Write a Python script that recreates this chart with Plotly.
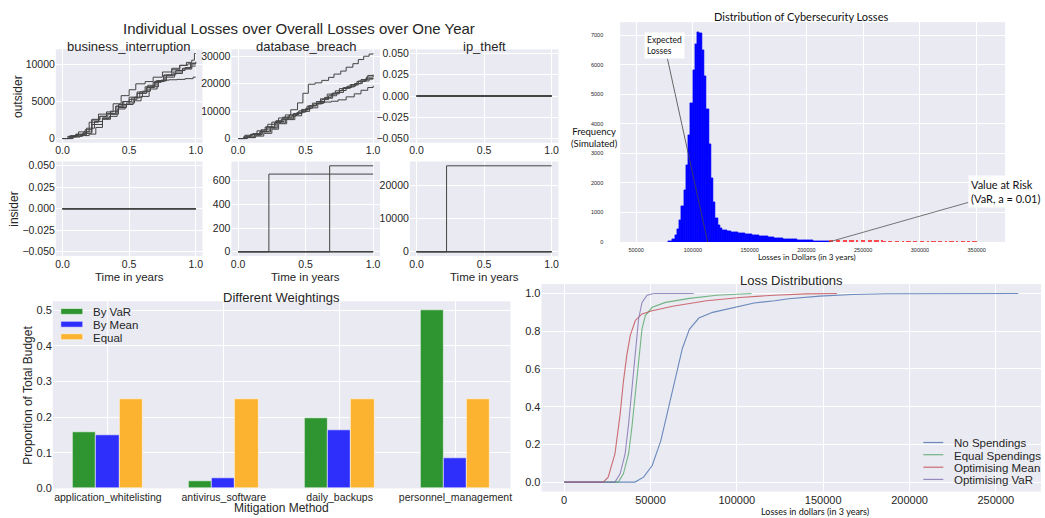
import numpy as np
import plotly.graph_objects as go

W, H = 1045, 518

# ---------------- cumulative loss paths (time in years, cumulative loss) ----------------
bi_times = [
    [0, 0.05, 0.1, 0.17, 0.22, 0.28, 0.33, 0.4, 0.46, 0.52, 0.58, 0.64, 0.7, 0.76, 0.82, 0.88, 0.93, 0.97, 0.99, 1.0],
    [0, 0.06, 0.12, 0.2, 0.27, 0.33, 0.38, 0.44, 0.5, 0.55, 0.62, 0.68, 0.75, 0.82, 0.88, 0.94, 1.0],
    [0, 0.08, 0.15, 0.22, 0.3, 0.36, 0.42, 0.5, 0.56, 0.62, 0.68, 0.74, 0.8, 0.86, 0.92, 0.98, 1.0],
    [0, 0.07, 0.13, 0.2, 0.25, 0.3, 0.36, 0.42, 0.48, 0.54, 0.6, 0.66, 0.72, 0.78, 0.85, 0.92, 0.97, 1.0],
    [0, 0.05, 0.1, 0.16, 0.22, 0.28, 0.34, 0.4, 0.45, 0.5, 0.56, 0.63, 0.69, 0.76, 0.83, 0.9, 0.96, 1.0],
    [0, 0.04, 0.1, 0.18, 0.24, 0.3, 0.35, 0.41, 0.47, 0.53, 0.59, 0.65, 0.71, 0.77, 0.84, 0.9, 0.97, 1.0],
]
bi_values = [
    [0, 300, 500, 1200, 2500, 3000, 3400, 4300, 5000, 5500, 6300, 7200, 7800, 8600, 9300, 9900, 10300, 10600, 11500, 11500],
    [0, 400, 900, 2200, 3300, 3600, 4700, 5800, 6600, 7400, 7700, 8300, 9000, 9500, 9900, 10100, 10400],
    [0, 300, 700, 1900, 2800, 3700, 4600, 5600, 6300, 7000, 7600, 7900, 7950, 8000, 8100, 8300, 8300],
    [0, 200, 400, 600, 1500, 2600, 3300, 4200, 4800, 5600, 6400, 7000, 7800, 8600, 9200, 9600, 10100, 10100],
    [0, 200, 600, 900, 2600, 3000, 3300, 4400, 5000, 5300, 6100, 6900, 7700, 8500, 9000, 9500, 10200, 10200],
    [0, 300, 500, 1400, 2300, 2700, 3000, 4000, 4600, 5100, 5700, 6700, 7800, 8300, 8800, 9400, 9800, 9800],
]
db_times = [
    [0, 0.04, 0.09, 0.14, 0.2, 0.25, 0.3, 0.35, 0.39, 0.44, 0.48, 0.52, 0.57, 0.62, 0.67, 0.71, 0.76, 0.8, 0.85, 0.89, 0.93, 0.97, 1.0],
    [0, 0.05, 0.1, 0.16, 0.21, 0.27, 0.32, 0.37, 0.43, 0.48, 0.53, 0.58, 0.64, 0.69, 0.75, 0.8, 0.86, 0.91, 0.96, 1.0],
    [0, 0.06, 0.12, 0.17, 0.23, 0.28, 0.34, 0.4, 0.45, 0.51, 0.56, 0.62, 0.67, 0.73, 0.78, 0.84, 0.89, 0.95, 1.0],
    [0, 0.05, 0.11, 0.17, 0.22, 0.28, 0.33, 0.38, 0.44, 0.5, 0.55, 0.61, 0.66, 0.72, 0.77, 0.83, 0.88, 0.94, 1.0],
    [0, 0.07, 0.13, 0.19, 0.25, 0.3, 0.36, 0.42, 0.47, 0.53, 0.59, 0.64, 0.7, 0.75, 0.81, 0.87, 0.92, 0.97, 1.0],
    [0, 0.06, 0.12, 0.18, 0.24, 0.29, 0.35, 0.41, 0.47, 0.52, 0.58, 0.63, 0.69, 0.74, 0.8, 0.86, 0.91, 0.96, 1.0],
]
db_values = [
    [0, 600, 1500, 2800, 4200, 6000, 7500, 8600, 10500, 13000, 16500, 19800, 20300, 21200, 22300, 23500, 24600, 26000, 27300, 28800, 30000, 30800, 31000],
    [0, 900, 1600, 2500, 4300, 5800, 7000, 8200, 9300, 10500, 12000, 13500, 15000, 16300, 17500, 18800, 20000, 21500, 23000, 23300],
    [0, 400, 1200, 2600, 4000, 6200, 7600, 8800, 10100, 11800, 12600, 14200, 15600, 16800, 18600, 19500, 21000, 22400, 23100],
    [0, 1200, 1800, 3200, 5200, 6500, 7800, 8600, 9600, 11000, 12900, 14500, 16200, 17400, 18300, 19700, 20800, 21700, 22000],
    [0, 300, 900, 1900, 3400, 5400, 6900, 8300, 9900, 11200, 13000, 14700, 16600, 18200, 19100, 20100, 21000, 21800, 21800],
    [0, 600, 1500, 2400, 3800, 5700, 7200, 9100, 10600, 11900, 12800, 13300, 13600, 14100, 15200, 16300, 17600, 18600, 19300],
]
n_paths = 6
# insider events: (time of event, loss) for the paths that had one; other paths stay at 0
insider_db_event_times = [0.228, 0.678]
insider_db_event_losses = [655, 725]
insider_ip_event_times = [0.222]
insider_ip_event_losses = [25800]

# ---------------- simulated 3-year loss histogram ----------------
hist_start = 78000
hist_bin = 2000
hist_counts = [15, 40, 110, 230, 420, 750, 1200, 1750, 2600, 3600, 4700, 5800, 6700, 7080, 7060,
               6500, 5600, 4500, 3300, 2150, 1350, 820, 560, 450, 410, 395, 370, 362, 340, 335,
               318, 305, 298, 282, 270, 262, 248, 240, 226, 219, 205, 198, 186, 178, 170, 158,
               152, 140, 134, 125, 118, 110, 104, 96, 90, 85, 78, 72, 68, 62, 58, 53, 50, 46,
               42, 39, 36, 33, 31, 29, 27]
var_start = 220000
tail_counts = [62, 55, 0, 58, 48, 0, 44, 50, 0, 38, 41, 0, 36, 0, 40, 33, 0, 30, 34, 0, 28, 31,
               0, 26, 22, 0, 25, 20, 0, 18, 22, 0, 17, 0, 19, 15, 0, 16, 14, 0, 13, 15, 0, 12, 0,
               14, 11, 0, 12, 10, 0, 11, 0, 9, 12, 0, 10, 0, 9, 8, 0, 9, 0, 8, 7]
expected_loss = 113000
value_at_risk = 220000

# ---------------- budget weightings ----------------
methods = ["application_whitelisting", "antivirus_software", "daily_backups", "personnel_management"]
by_var = [0.157, 0.019, 0.198, 0.5]
by_mean = [0.150, 0.028, 0.163, 0.084]
equal = [0.25, 0.25, 0.25, 0.25]

# ---------------- loss distributions (empirical CDFs) ----------------
no_spend_x = [0, 41000, 46000, 51000, 56000, 61000, 65000, 68500, 72500, 78000, 86000, 98000, 110000, 122000, 130000, 148000, 167000, 187000, 220000, 263000]
no_spend_y = [0, 0.0, 0.026, 0.088, 0.22, 0.41, 0.57, 0.71, 0.81, 0.87, 0.90, 0.925, 0.95, 0.962, 0.972, 0.986, 0.995, 0.999, 1.0, 1.0]
equal_spend_x = [0, 31400, 34300, 37300, 39200, 41200, 43100, 45100, 47000, 51000, 58700, 72600, 88300, 108500]
equal_spend_y = [0, 0, 0.044, 0.149, 0.288, 0.464, 0.656, 0.813, 0.883, 0.927, 0.953, 0.974, 0.991, 1.0]
opt_mean_x = [0, 22600, 25500, 29400, 32400, 34300, 36300, 38300, 41200, 45100, 51000, 62800, 82400, 102000, 121600, 140000, 158000]
opt_mean_y = [0, 0, 0.026, 0.149, 0.359, 0.533, 0.673, 0.778, 0.857, 0.892, 0.909, 0.932, 0.962, 0.979, 0.991, 0.998, 1.0]
opt_var_x = [0, 29400, 32400, 35300, 37300, 39200, 41200, 43100, 45100, 48000, 52000, 75000]
opt_var_y = [0, 0, 0.044, 0.149, 0.306, 0.498, 0.708, 0.865, 0.953, 0.991, 1.0, 1.0]
cdf_names = ["No Spendings", "Equal Spendings", "Optimising Mean", "Optimising VaR"]

# ---------------- helpers ----------------
def fx(px):
    return px / W


def fy(py):
    return 1 - py / H


TXT = "#262626"
BG = "#EAEAF2"
FONT = "Liberation Sans, Arial, sans-serif"
SOFT = "Lato, Open Sans, sans-serif"

fig = go.Figure()

path_line = dict(color="#444444", width=1)


def add_steps(t, v, ax):
    fig.add_trace(go.Scatter(x=t, y=v, mode="lines", line=dict(shape="hv", **path_line),
                             xaxis="x" + ax, yaxis="y" + ax, showlegend=False, hoverinfo="skip"))


# outsider row
for t, v in zip(bi_times, bi_values):
    add_steps(t, v, "")
for t, v in zip(db_times, db_values):
    add_steps(t, v, "2")
for _ in range(n_paths):
    add_steps([0, 1], [0, 0], "3")
# insider row
for _ in range(n_paths):
    add_steps([0, 1], [0, 0], "4")
for i in range(n_paths):
    if i < len(insider_db_event_times):
        add_steps([0, insider_db_event_times[i], 1], [0, insider_db_event_losses[i], insider_db_event_losses[i]], "5")
    else:
        add_steps([0, 1], [0, 0], "5")
for i in range(n_paths):
    if i < len(insider_ip_event_times):
        add_steps([0, insider_ip_event_times[i], 1], [0, insider_ip_event_losses[i], insider_ip_event_losses[i]], "6")
    else:
        add_steps([0, 1], [0, 0], "6")

# histogram
hist_x = hist_start + hist_bin * (np.arange(len(hist_counts)) + 0.5)
tail_x = var_start + hist_bin * (np.arange(len(tail_counts)) + 0.5)
fig.add_trace(go.Bar(x=hist_x, y=hist_counts, width=hist_bin,
                     marker=dict(color="#0000FF", line=dict(color="#0000FF", width=0.6)),
                     xaxis="x7", yaxis="y7", showlegend=False, hoverinfo="skip"))
fig.add_trace(go.Bar(x=tail_x, y=tail_counts, width=hist_bin,
                     marker=dict(color="#FF2020", line=dict(width=0)), opacity=0.8,
                     xaxis="x7", yaxis="y7", showlegend=False, hoverinfo="skip"))

# grouped budget bars
bar_colors = ["#2F9530", "#2F2FFC", "#FBB330"]
bar_names = ["By VaR", "By Mean", "Equal"]
bar_w = 0.2
idx = np.arange(len(methods))
for k, (vals, col) in enumerate(zip([by_var, by_mean, equal], bar_colors)):
    fig.add_trace(go.Bar(x=idx + (k - 1) * bar_w, y=vals, width=bar_w,
                         marker=dict(color=col, line=dict(color="rgba(255,255,255,0.55)", width=1)),
                         xaxis="x8", yaxis="y8", showlegend=False, hoverinfo="skip"))

# CDF curves
cdf_colors = ["#4C72B0", "#55A868", "#C44E52", "#8172B2"]
for (xs, ys), col in zip([(no_spend_x, no_spend_y), (equal_spend_x, equal_spend_y),
                          (opt_mean_x, opt_mean_y), (opt_var_x, opt_var_y)], cdf_colors):
    fig.add_trace(go.Scatter(x=xs, y=ys, mode="lines", line=dict(color=col, width=1.1), opacity=0.8,
                             xaxis="x9", yaxis="y9", showlegend=False, hoverinfo="skip"))

# ---------------- axes ----------------
def ax_style(size=10.5, **kw):
    d = dict(showgrid=True, gridcolor="white", gridwidth=1, zeroline=False, showline=False, ticks="",
             tickfont=dict(size=size, color=TXT, family=FONT))
    d.update(kw)
    return d


cols = [(55, 202), (231, 380), (410, 559)]
rows = [(48, 143), (162, 258)]
t_axis = dict(range=[-0.05, 1.05], tickvals=[0, 0.5, 1.0], tickformat=".1f")
small_range = dict(range=[-0.055, 0.055], tickvals=[-0.05, -0.025, 0, 0.025, 0.05], tickformat=".3f")
y_specs = [
    dict(range=[-575, 12075], tickvals=[0, 5000, 10000], tickformat="d"),
    dict(range=[-1550, 32550], tickvals=[0, 10000, 20000, 30000], tickformat="d"),
    small_range,
    small_range,
    dict(range=[-36.25, 761.25], tickvals=[0, 200, 400, 600], tickformat="d"),
    dict(range=[-1290, 27090], tickvals=[0, 10000, 20000], tickformat="d"),
]
layout_axes = {}
for i in range(6):
    r, c = divmod(i, 3)
    sfx = "" if i == 0 else str(i + 1)
    layout_axes["xaxis" + sfx] = ax_style(domain=[fx(cols[c][0]), fx(cols[c][1])], anchor="y" + sfx, **t_axis)
    layout_axes["yaxis" + sfx] = ax_style(domain=[fy(rows[r][1]), fy(rows[r][0])], anchor="x" + sfx, **y_specs[i])

layout_axes["xaxis7"] = ax_style(size=5.5, domain=[fx(621), fx(1007)], anchor="y7", range=[36000, 375000],
                                 tickvals=list(range(50000, 350001, 50000)), tickformat="d", ticklabelstandoff=4)
layout_axes["yaxis7"] = ax_style(size=5.5, domain=[fy(243.7), fy(20.5)], anchor="x7", range=[0, 7434],
                                 tickvals=list(range(0, 7001, 1000)), tickformat="d", ticklabelstandoff=16)
layout_axes["xaxis8"] = ax_style(size=10.5, domain=[fx(52), fx(511)], anchor="y8", range=[-0.475, 3.475],
                                 tickvals=list(idx), ticktext=methods, ticklabelstandoff=1)
layout_axes["yaxis8"] = ax_style(size=11, domain=[fy(494), fy(304)], anchor="x8", range=[0, 0.525],
                                 tickvals=[0, 0.1, 0.2, 0.3, 0.4, 0.5], tickformat=".1f")
layout_axes["xaxis9"] = ax_style(size=11, domain=[fx(542), fx(1043)], anchor="y9", range=[-13150, 276150],
                                 tickvals=list(range(0, 250001, 50000)), tickformat="d", ticklabelstandoff=0)
layout_axes["yaxis9"] = ax_style(size=11, domain=[fy(497.2), fy(286.5)], anchor="x9", range=[-0.05, 1.05],
                                 tickvals=[0, 0.2, 0.4, 0.6, 0.8, 1.0], tickformat=".1f")

# ---------------- text ----------------
def label(text, x, y, size, family=FONT, angle=0, color=TXT, **kw):
    d = dict(text=text, x=fx(x), y=fy(y), xref="paper", yref="paper", showarrow=False,
             xanchor="center", yanchor="middle", textangle=angle,
             font=dict(size=size, color=color, family=family))
    d.update(kw)
    return d


annotations = [
    label("Individual Losses over Overall Losses over One Year", 299, 27, 15),
    label("business_interruption", (cols[0][0] + cols[0][1]) / 2, 45, 13),
    label("database_breach", (cols[1][0] + cols[1][1]) / 2, 45, 13),
    label("ip_theft", (cols[2][0] + cols[2][1]) / 2, 45, 13),
    label("outsider", 17, 95.5, 12, angle=-90),
    label("insider", 13, 210, 12, angle=-90),
]
for c in cols:
    annotations.append(label("Time in years", (c[0] + c[1]) / 2, 279, 11.5))

annotations += [
    label("Distribution of Cybersecurity Losses", 802, 15, 11, family=SOFT, color="#111"),
    label("Frequency<br>(Simulated)", 595, 138, 9.5, family=SOFT, color="#111"),
    label("Losses in Dollars (in 3 years)", 808, 259, 8, family=SOFT, color="#111"),
    dict(text="Expected<br>Losses", x=expected_loss, y=0, xref="x7", yref="y7", showarrow=True,
         arrowhead=0, arrowwidth=0.8, arrowcolor="#444", ax=-43, ay=-196, align="left",
         bgcolor="white", borderpad=2, font=dict(size=8.5, family=SOFT, color="#111")),
    dict(text="Value at Risk<br>(VaR, a = 0.01)", x=value_at_risk, y=0, xref="x7", yref="y7", showarrow=True,
         arrowhead=0, arrowwidth=0.8, arrowcolor="#555", ax=176, ay=-50, align="left",
         bgcolor="white", borderpad=2, font=dict(size=11, family=SOFT, color="#111")),
    label("Different Weightings", 281.5, 300, 13),
    # axis titles sitting on the bottom edge of the figure
    label("Mitigation Method", 281.5, 518, 12, yanchor="bottom", borderpad=0, yshift=-4),
    label("Proportion of Total Budget", 27, 399, 12, angle=-90),
    label("Loss Distributions", 792.5, 283, 13),
    label("Losses in dollars (in 3 years)", 816, 518, 9, family=SOFT, color="#111",
          yanchor="bottom", borderpad=0, yshift=-6),
]

# legend entries for the bar chart and the CDF chart
shapes = []
bar_leg_rows = [314.3, 327.3, 340.0]
for name, col, ry in zip(bar_names, bar_colors, bar_leg_rows):
    shapes.append(dict(type="rect", xref="paper", yref="paper", x0=fx(60), x1=fx(82), y0=fy(ry + 3), y1=fy(ry - 3),
                       fillcolor=col, line=dict(color="rgba(255,255,255,0.55)", width=1)))
    annotations.append(label(name, 90, ry + 1, 11.5, xanchor="left"))

cdf_leg_rows = [447.4, 459.8, 472.5, 484.9]
for name, col, ry in zip(cdf_names, cdf_colors, cdf_leg_rows):
    shapes.append(dict(type="line", xref="paper", yref="paper", x0=fx(925), x1=fx(945), y0=fy(ry), y1=fy(ry),
                       line=dict(color=col, width=1.2), opacity=0.8))
    annotations.append(label(name, 954, ry + 1, 11.5, xanchor="left"))

fig.update_layout(
    width=W, height=H, autosize=False,
    margin=dict(l=0, r=0, t=0, b=0),
    paper_bgcolor="white", plot_bgcolor=BG,
    barmode="overlay", bargap=0,
    font=dict(family=FONT, color=TXT),
    annotations=annotations, shapes=shapes,
    showlegend=False,
    **layout_axes,
)

fig.write_html("out.html")
